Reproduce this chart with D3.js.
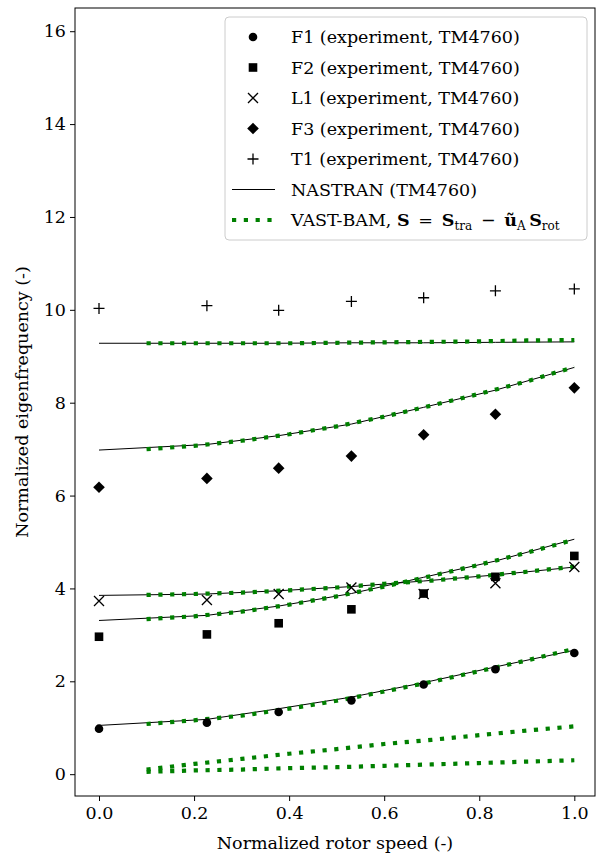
<!DOCTYPE html>
<html>
<head>
<meta charset="utf-8">
<script src="https://cdn.jsdelivr.net/npm/d3@7"></script>
<style>
  body { margin: 0; background: #fff; }
  text { font-family: "DejaVu Serif", serif; fill: #000; }
</style>
</head>
<body>
<div id="chart"></div>
<script>
// Experimental data (TM4760)
const expSpeed = [0, 0.227, 0.378, 0.531, 0.683, 0.834, 1.0];
const expF1 = [0.98, 1.11, 1.34, 1.59, 1.93, 2.26, 2.61];
const expF2 = [2.96, 3.01, 3.25, 3.55, 3.89, 4.25, 4.70];
const expL1 = [3.73, 3.75, 3.88, 4.02, 3.88, 4.11, 4.46];
const expF3 = [6.18, 6.37, 6.59, 6.85, 7.31, 7.75, 8.32];
const expT1 = [10.03, 10.09, 9.99, 10.18, 10.26, 10.41, 10.45];

// NASTRAN (TM4760)
const nasSpeed = [0, 0.227, 0.378, 0.531, 0.683, 0.834, 1.0];
const nasF1 = [1.05, 1.18, 1.41, 1.66, 1.97, 2.31, 2.67];
const nasF2 = [3.31, 3.42, 3.62, 3.89, 4.24, 4.59, 5.06];
const nasL1 = [3.85, 3.88, 3.95, 4.04, 4.16, 4.29, 4.46];
const nasF3 = [6.98, 7.10, 7.29, 7.54, 7.90, 8.27, 8.76];
const nasT1 = [9.28, 9.28, 9.28, 9.29, 9.29, 9.30, 9.31];

// VAST-BAM
const vastSpeed = [0.1, 0.2, 0.3, 0.4, 0.5, 0.6, 0.7, 0.8, 0.9, 1.0];
const vastA = [0.05, 0.08, 0.10, 0.13, 0.15, 0.18, 0.21, 0.24, 0.27, 0.30];
const vastB = [0.10, 0.22, 0.33, 0.44, 0.54, 0.65, 0.74, 0.84, 0.94, 1.03];
const vastF1 = [1.08, 1.16, 1.26, 1.41, 1.58, 1.78, 1.99, 2.22, 2.45, 2.70];
const vastF2 = [3.34, 3.40, 3.50, 3.65, 3.83, 4.04, 4.27, 4.51, 4.77, 5.05];
const vastL1 = [3.86, 3.88, 3.91, 3.96, 4.02, 4.10, 4.17, 4.26, 4.36, 4.47];
const vastF3 = [7.00, 7.07, 7.18, 7.32, 7.49, 7.70, 7.94, 8.19, 8.46, 8.77];
const vastT1 = [9.28, 9.28, 9.28, 9.28, 9.29, 9.30, 9.31, 9.32, 9.34, 9.35];

const xTicks = [0, 0.2, 0.4, 0.6, 0.8, 1.0];
const yTicks = [0, 2, 4, 6, 8, 10, 12, 14, 16];

const width = 599;
const height = 856;
const margin = { top: 8, right: 4, bottom: 60, left: 75 };
const fontSize = '17.5px';
const subSize = '12px';

const svg = d3.select('#chart').append('svg')
    .attr('width', width)
    .attr('height', height);

const xScale = d3.scaleLinear()
    .domain([-0.0505, 1.0435])
    .range([margin.left, width - margin.right]);

const yScale = d3.scaleLinear()
    .domain([-0.47, 16.5])
    .range([height - margin.bottom, margin.top]);

const plot = svg.append('g');

// NASTRAN lines
const line = d3.line()
    .x(d => xScale(d[0]))
    .y(d => yScale(d[1]));

[nasF1, nasF2, nasL1, nasF3, nasT1].forEach(vals => {
    plot.append('path')
        .datum(nasSpeed.map((s, i) => [s, vals[i]]))
        .attr('d', line)
        .attr('fill', 'none')
        .attr('stroke', '#000')
        .attr('stroke-width', 1);
});

// VAST-BAM dotted lines
[vastA, vastB, vastF1, vastF2, vastL1, vastF3, vastT1].forEach(vals => {
    plot.append('path')
        .datum(vastSpeed.map((s, i) => [s, vals[i]]))
        .attr('d', line)
        .attr('fill', 'none')
        .attr('stroke', 'green')
        .attr('stroke-width', 4.2)
        .attr('stroke-dasharray', '4.2,7.6');
});

// Marker shapes
function drawMarker(g, type, cx, cy) {
    if (type === 'circle') {
        g.append('circle').attr('cx', cx).attr('cy', cy).attr('r', 4.3).attr('fill', '#000');
    } else if (type === 'square') {
        g.append('rect').attr('x', cx - 4.3).attr('y', cy - 4.3).attr('width', 8.6).attr('height', 8.6).attr('fill', '#000');
    } else if (type === 'x') {
        g.append('path')
            .attr('d', `M${cx - 5},${cy - 5}L${cx + 5},${cy + 5}M${cx - 5},${cy + 5}L${cx + 5},${cy - 5}`)
            .attr('stroke', '#000').attr('stroke-width', 1.3);
    } else if (type === 'diamond') {
        g.append('path')
            .attr('d', `M${cx},${cy - 5.8}L${cx + 5.8},${cy}L${cx},${cy + 5.8}L${cx - 5.8},${cy}Z`)
            .attr('fill', '#000');
    } else if (type === 'plus') {
        g.append('path')
            .attr('d', `M${cx - 5.5},${cy}L${cx + 5.5},${cy}M${cx},${cy - 5.5}L${cx},${cy + 5.5}`)
            .attr('stroke', '#000').attr('stroke-width', 1.3);
    }
}

const expSeries = [
    { vals: expF1, type: 'circle' },
    { vals: expF2, type: 'square' },
    { vals: expL1, type: 'x' },
    { vals: expF3, type: 'diamond' },
    { vals: expT1, type: 'plus' }
];

expSeries.forEach(s => {
    s.vals.forEach((v, i) => drawMarker(plot, s.type, xScale(expSpeed[i]), yScale(v)));
});

// Axes
const xAxis = d3.axisBottom(xScale).tickValues(xTicks).tickFormat(d3.format('.1f')).tickSizeOuter(0).tickSize(5);
const yAxis = d3.axisLeft(yScale).tickValues(yTicks).tickSizeOuter(0).tickSize(5);

const gx = svg.append('g')
    .attr('transform', `translate(0, ${height - margin.bottom})`)
    .call(xAxis);
const gy = svg.append('g')
    .attr('transform', `translate(${margin.left}, 0)`)
    .call(yAxis);

[gx, gy].forEach(g => {
    g.select('.domain').remove();
    g.selectAll('.tick line').attr('stroke', '#000').attr('stroke-width', 1);
    g.selectAll('.tick text').style('font-size', fontSize).style('font-family', '"DejaVu Serif", serif');
});
gx.selectAll('.tick text').attr('dy', '0.9em').attr('y', 7);
gy.selectAll('.tick text').attr('x', -9);

// Frame
svg.append('rect')
    .attr('x', margin.left)
    .attr('y', margin.top)
    .attr('width', width - margin.left - margin.right)
    .attr('height', height - margin.top - margin.bottom)
    .attr('fill', 'none')
    .attr('stroke', '#000')
    .attr('stroke-width', 1);

// Axis titles
svg.append('text')
    .attr('x', (margin.left + width - margin.right) / 2)
    .attr('y', 849)
    .style('text-anchor', 'middle')
    .style('font-size', fontSize)
    .text('Normalized rotor speed (-)');

svg.append('text')
    .attr('transform', 'rotate(-90)')
    .attr('x', -402)
    .attr('y', 28)
    .style('text-anchor', 'middle')
    .style('font-size', fontSize)
    .text('Normalized eigenfrequency (-)');

// Legend
const legend = svg.append('g')
    .attr('transform', 'translate(225, 17)');

legend.append('rect')
    .attr('width', 362)
    .attr('height', 223)
    .attr('rx', 4)
    .attr('fill', '#fff')
    .attr('fill-opacity', 0.8)
    .attr('stroke', '#ccc')
    .attr('stroke-width', 1);

const legendLabels = [
    'F1 (experiment, TM4760)',
    'F2 (experiment, TM4760)',
    'L1 (experiment, TM4760)',
    'F3 (experiment, TM4760)',
    'T1 (experiment, TM4760)',
    'NASTRAN (TM4760)'
];
const rowY = i => 20 + i * 30.5;

expSeries.forEach((s, i) => drawMarker(legend, s.type, 28, rowY(i)));

legend.append('line')
    .attr('x1', 7).attr('x2', 50)
    .attr('y1', rowY(5)).attr('y2', rowY(5))
    .attr('stroke', '#000').attr('stroke-width', 1);

legend.append('line')
    .attr('x1', 7).attr('x2', 50)
    .attr('y1', rowY(6)).attr('y2', rowY(6))
    .attr('stroke', 'green').attr('stroke-width', 4.2)
    .attr('stroke-dasharray', '4.2,7.6');

legendLabels.forEach((t, i) => {
    legend.append('text')
        .attr('x', 66)
        .attr('y', rowY(i))
        .attr('dy', '0.35em')
        .style('font-size', fontSize)
        .text(t);
});

const vastText = legend.append('text')
    .attr('x', 66)
    .attr('y', rowY(6))
    .attr('dy', '0.35em')
    .style('font-size', fontSize);
vastText.append('tspan').text('VAST-BAM, ');
vastText.append('tspan').style('font-weight', 'bold').text('S');
vastText.append('tspan').text('\u2002=\u2002');
vastText.append('tspan').style('font-weight', 'bold').text('S');
vastText.append('tspan').attr('dy', 4).style('font-size', subSize).text('tra');
vastText.append('tspan').attr('dy', -4).text('\u2002\u2212\u2002');
vastText.append('tspan').style('font-weight', 'bold').text('\u0169');
vastText.append('tspan').attr('dy', 4).style('font-size', subSize).text('A');
vastText.append('tspan').attr('dy', -4).text('\u2009');
vastText.append('tspan').style('font-weight', 'bold').text('S');
vastText.append('tspan').attr('dy', 4).style('font-size', subSize).text('rot');
</script>
</body>
</html>
